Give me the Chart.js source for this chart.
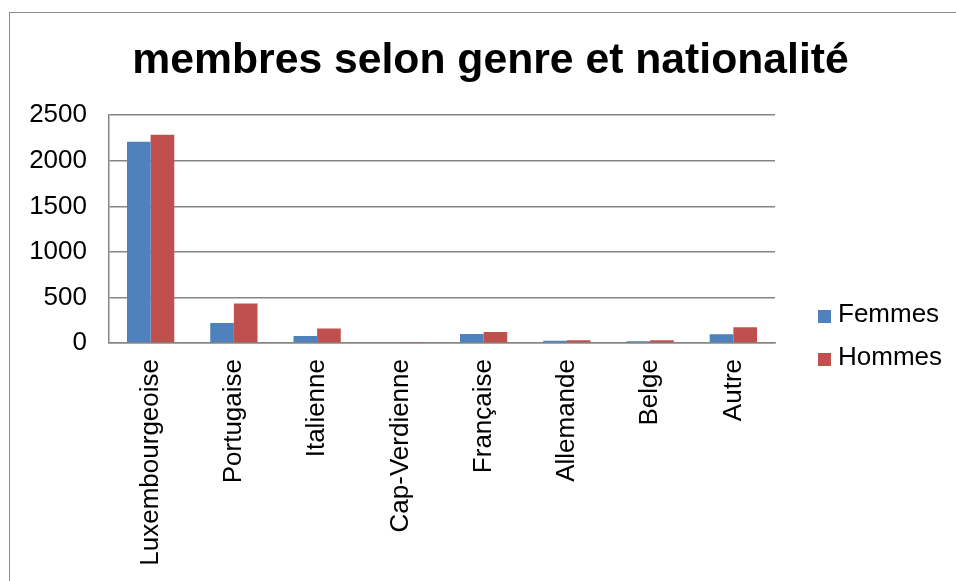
<!DOCTYPE html>
<html>
<head>
<meta charset="utf-8">
<script src="https://cdn.jsdelivr.net/npm/chart.js@4/dist/chart.umd.min.js"></script>
<style>
  html, body { margin: 0; padding: 0; background: #ffffff; }
  #wrap { width: 956px; height: 581px; position: relative; }
</style>
</head>
<body>
<div id="wrap"><canvas id="graficoMembres" width="956" height="581"></canvas></div>
<script>
// données
const nationalites = ['Luxembourgeoise', 'Portugaise', 'Italienne', 'Cap-Verdienne', 'Française', 'Allemande', 'Belge', 'Autre'];
const femmes = [2210, 220, 78, 0, 98, 26, 18, 95];
const hommes = [2285, 433, 158, 10, 122, 29, 29, 172];
const yTicks = [0, 500, 1000, 1500, 2000, 2500];

const titre = 'membres selon genre et nationalité';
const couleurFemmes = '#4F81BD';
const couleurHommes = '#C0504D';
const gris = '#868686';
const police = '"Liberation Sans", Arial, sans-serif';

// cadre extérieur + fond blanc
const cadrePlugin = {
    id: 'cadre',
    beforeDraw(chart) {
        const ctx = chart.ctx;
        ctx.save();
        ctx.fillStyle = '#ffffff';
        ctx.fillRect(0, 0, chart.width, chart.height);
        ctx.strokeStyle = '#8c8c8c';
        ctx.lineWidth = 1;
        ctx.strokeRect(9.5, 12.5, 2000, 2000);
        ctx.restore();
    }
};

// légende dessinée à la main (à droite)
const legendePlugin = {
    id: 'legendeDroite',
    afterDraw(chart) {
        const ctx = chart.ctx;
        ctx.save();
        ctx.font = '26px ' + police;
        ctx.textBaseline = 'middle';
        ctx.textAlign = 'left';
        chart.data.datasets.forEach((ds, i) => {
            const y = 315 + i * 43;
            ctx.fillStyle = ds.backgroundColor;
            ctx.fillRect(818, y - 5, 13, 13);
            ctx.fillStyle = '#000000';
            ctx.fillText(ds.label, 838, y);
        });
        ctx.restore();
    }
};

const ctx = document.getElementById('graficoMembres').getContext('2d');

const chart = new Chart(ctx, {
    type: 'bar',
    data: {
        labels: nationalites,
        datasets: [
            {
                label: 'Femmes',
                data: femmes,
                backgroundColor: couleurFemmes,
                borderWidth: 0
            },
            {
                label: 'Hommes',
                data: hommes,
                backgroundColor: couleurHommes,
                borderWidth: 0
            }
        ]
    },
    options: {
        responsive: false,
        animation: false,
        categoryPercentage: 0.568,
        barPercentage: 1.0,
        layout: {
            padding: { left: 25, right: 0, top: 0, bottom: 0 }
        },
        plugins: {
            legend: { display: false },
            tooltip: { enabled: false },
            title: {
                display: true,
                text: titre,
                color: '#000000',
                font: { family: police, size: 42.7, weight: 'bold', lineHeight: 1.2 },
                padding: { top: 36, bottom: 28 }
            }
        },
        scales: {
            x: {
                grid: { display: false },
                border: { display: true, color: gris, width: 1.5 },
                ticks: {
                    color: '#000000',
                    font: { family: police, size: 26 },
                    minRotation: 90,
                    maxRotation: 90,
                    autoSkip: false,
                    padding: 8
                },
                afterFit(scale) {
                    scale.height = 238;
                }
            },
            y: {
                min: 0,
                max: 2500,
                afterBuildTicks(scale) {
                    scale.ticks = yTicks.map(v => ({ value: v }));
                },
                grid: {
                    color: gris,
                    lineWidth: 1.5,
                    drawTicks: false
                },
                border: { display: true, color: gris, width: 1.5 },
                ticks: {
                    color: '#000000',
                    font: { family: police, size: 26 },
                    padding: 22,
                    callback: v => String(v)
                },
                afterFit(scale) {
                    scale.width = 84;
                }
            },
            // axe vide à droite pour laisser la place à la légende
            reserveDroite: {
                position: 'right',
                min: 0,
                max: 1,
                grid: { display: false },
                border: { display: false },
                ticks: { display: false },
                afterFit(scale) {
                    scale.width = 181;
                }
            }
        }
    },
    plugins: [cadrePlugin, legendePlugin]
});
</script>
</body>
</html>
